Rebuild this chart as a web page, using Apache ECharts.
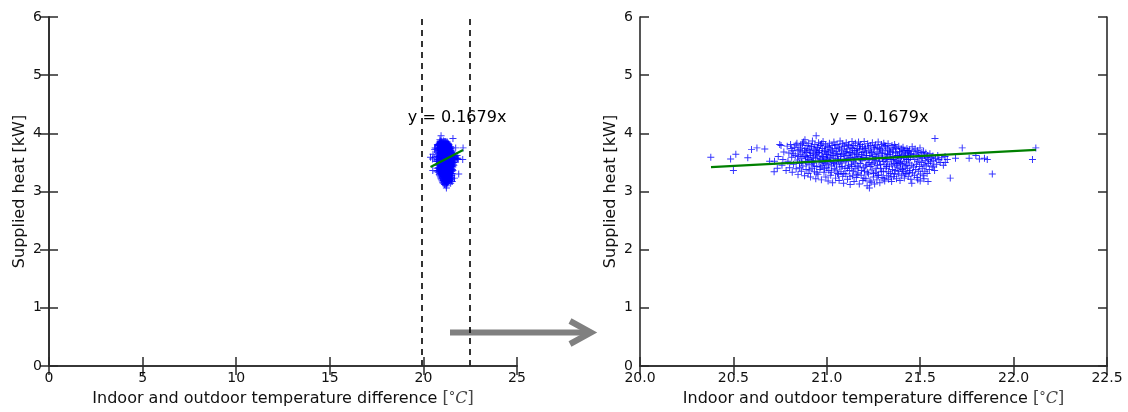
<!DOCTYPE html>
<html>
<head>
<meta charset="utf-8">
<script src="https://cdn.jsdelivr.net/npm/echarts@6/dist/echarts.min.js"></script>
<style>html,body{margin:0;padding:0;background:#fff}#c{width:1128px;height:412px}</style>
</head>
<body>
<div id="c"></div>
<script>
// ---- data ----
const samples = [
[20.379,3.59],[20.485,3.56],[20.513,3.64],[20.50,3.36],[20.577,3.58],[20.597,3.72],[20.626,3.75],[20.668,3.73],
[20.694,3.52],[20.718,3.34],[20.755,3.79],[20.782,3.36],[20.943,3.96],[21.579,3.91],[21.725,3.75],[21.689,3.57],
[21.762,3.57],[21.798,3.62],[21.817,3.56],[21.844,3.57],[21.859,3.55],[21.886,3.30],[21.661,3.23],[21.634,3.50],
[22.101,3.55],[22.119,3.75],[21.57,3.42],[21.542,3.17],[20.72,3.52],[20.74,3.60],[20.76,3.45],[20.77,3.68],
[20.748,3.81],[20.735,3.40],[20.765,3.55],[20.883,3.89],[21.487,3.20],[21.52,3.22],[21.50,3.18],[21.455,3.14],
[20.788,3.78],[20.792,3.52],[20.797,3.66],[20.801,3.41],
[20.806,3.81],[20.812,3.59],[20.815,3.33],[20.818,3.70],[20.822,3.47],
[20.828,3.76],[20.831,3.62],[20.836,3.39],[20.840,3.83],[20.843,3.54],[20.846,3.29],
[20.851,3.72],[20.854,3.48],[20.858,3.64],[20.861,3.80],[20.864,3.35],[20.867,3.57],[20.869,3.68],
[20.872,3.44],[20.875,3.85],[20.878,3.61],[20.881,3.27],[20.884,3.74],[20.886,3.52],[20.889,3.38],[20.892,3.67],[20.894,3.79],
[20.897,3.58],[20.900,3.31],[20.903,3.83],[20.905,3.46],[20.908,3.70],[20.911,3.62],[20.913,3.25],[20.916,3.77],[20.918,3.53],[20.921,3.40],
[20.923,3.87],[20.926,3.65],[20.929,3.49],[20.931,3.73],[20.934,3.34],[20.936,3.81],[20.939,3.57],[20.941,3.22],[20.944,3.68],[20.946,3.43],[20.948,3.76],
[20.951,3.61],[20.953,3.29],[20.956,3.84],[20.958,3.51],[20.961,3.70],[20.963,3.38],[20.966,3.79],[20.968,3.56],[20.971,3.20],[20.973,3.66],[20.975,3.45],[20.978,3.74],
[20.980,3.86],[20.983,3.59],[20.985,3.33],[20.988,3.71],[20.990,3.48],[20.993,3.80],[20.995,3.25],[20.998,3.63],[21.000,3.41],[21.002,3.77],[21.004,3.55],[21.007,3.18],
[21.009,3.68],[21.011,3.36],[21.014,3.83],[21.016,3.52],[21.019,3.72],[21.021,3.28],[21.023,3.61],[21.026,3.44],[21.028,3.79],[21.031,3.15],[21.033,3.66],[21.035,3.50],[21.038,3.85],
[21.040,3.39],[21.043,3.74],[21.045,3.57],[21.047,3.23],[21.050,3.69],[21.052,3.46],[21.055,3.81],[21.057,3.31],[21.059,3.63],[21.062,3.53],[21.064,3.76],[21.066,3.19],[21.069,3.42],
[21.071,3.87],[21.073,3.60],[21.076,3.34],[21.078,3.71],[21.080,3.49],[21.083,3.82],[21.085,3.26],[21.088,3.65],[21.090,3.14],[21.092,3.56],[21.095,3.78],[21.097,3.40],[21.099,3.68],
[21.102,3.30],[21.104,3.84],[21.107,3.54],[21.109,3.73],[21.111,3.21],[21.114,3.62],[21.116,3.45],[21.118,3.80],[21.121,3.36],[21.123,3.67],[21.125,3.12],[21.128,3.58],[21.130,3.76],[21.132,3.47],
[21.135,3.86],[21.137,3.27],[21.139,3.64],[21.142,3.51],[21.144,3.79],[21.146,3.17],[21.149,3.70],[21.151,3.39],[21.153,3.83],[21.156,3.57],[21.158,3.24],[21.160,3.66],[21.163,3.44],[21.165,3.74],
[21.167,3.32],[21.170,3.85],[21.172,3.60],[21.174,3.13],[21.177,3.72],[21.179,3.48],[21.181,3.81],[21.184,3.28],[21.186,3.63],[21.188,3.53],[21.191,3.77],[21.193,3.19],[21.195,3.41],[21.198,3.69],
[21.200,3.86],[21.202,3.35],[21.205,3.58],[21.207,3.75],[21.209,3.22],[21.212,3.66],[21.214,3.46],[21.216,3.10],[21.219,3.82],[21.221,3.54],[21.223,3.30],[21.226,3.71],[21.228,3.06],[21.230,3.62],
[21.233,3.43],[21.235,3.79],[21.237,3.16],[21.240,3.67],[21.242,3.37],[21.244,3.84],[21.247,3.55],[21.249,3.25],[21.251,3.73],[21.254,3.49],[21.256,3.13],[21.258,3.64],[21.261,3.80],[21.263,3.33],
[21.265,3.59],[21.268,3.20],[21.270,3.76],[21.272,3.45],[21.275,3.85],[21.277,3.28],[21.279,3.68],[21.282,3.52],[21.284,3.15],[21.286,3.72],[21.289,3.39],[21.291,3.61],[21.293,3.81],[21.296,3.24],
[21.298,3.57],[21.300,3.70],[21.303,3.34],[21.305,3.83],[21.307,3.47],[21.310,3.18],[21.312,3.65],[21.314,3.77],[21.317,3.40],[21.319,3.58],[21.321,3.27],[21.324,3.73],
[21.326,3.51],[21.328,3.82],[21.331,3.21],[21.333,3.63],[21.335,3.44],[21.338,3.75],[21.340,3.31],[21.342,3.68],[21.345,3.55],[21.347,3.17],[21.349,3.79],[21.352,3.38],
[21.354,3.60],[21.356,3.72],[21.359,3.26],[21.361,3.48],[21.363,3.81],[21.366,3.36],[21.368,3.66],[21.370,3.53],[21.373,3.22],[21.375,3.74],[21.377,3.42],
[21.380,3.62],[21.382,3.30],[21.385,3.78],[21.387,3.50],[21.389,3.69],[21.392,3.19],[21.394,3.57],[21.396,3.40],[21.399,3.73],[21.401,3.27],
[21.403,3.64],[21.406,3.47],[21.408,3.76],[21.410,3.35],[21.413,3.59],[21.415,3.23],[21.417,3.70],[21.420,3.44],[21.422,3.66],
[21.424,3.31],[21.427,3.55],[21.429,3.74],[21.431,3.40],[21.434,3.62],[21.436,3.26],[21.438,3.68],[21.441,3.49],
[21.443,3.71],[21.445,3.36],[21.448,3.58],[21.450,3.21],[21.452,3.65],[21.455,3.45],[21.457,3.77],[21.459,3.32],
[21.462,3.60],[21.464,3.42],[21.466,3.69],[21.469,3.28],[21.471,3.55],[21.473,3.73],[21.476,3.38],
[21.478,3.63],[21.480,3.47],[21.483,3.24],[21.485,3.70],[21.487,3.52],[21.490,3.35],[21.492,3.66],
[21.494,3.58],[21.497,3.43],[21.499,3.75],[21.501,3.30],[21.504,3.61],[21.506,3.50],[21.509,3.67],
[21.511,3.39],[21.513,3.57],[21.516,3.27],[21.518,3.69],[21.520,3.46],[21.523,3.62],
[21.525,3.35],[21.527,3.53],[21.530,3.66],[21.532,3.44],[21.535,3.59],[21.537,3.31],
[21.540,3.62],[21.543,3.48],[21.546,3.55],[21.549,3.38],[21.552,3.65],[21.555,3.51],
[21.560,3.58],[21.564,3.44],[21.568,3.61],[21.573,3.53],[21.577,3.36],[21.582,3.57],[21.588,3.47],[21.594,3.62],
[21.600,3.55],[21.607,3.50],[21.615,3.58],[21.624,3.45],[21.633,3.60],[21.645,3.55],
[20.887,3.60],[20.893,3.49],[20.899,3.72],[20.904,3.55],[20.909,3.37],[20.914,3.66],[20.919,3.78],[20.924,3.51],
[20.928,3.59],[20.933,3.44],[20.938,3.71],[20.943,3.63],[20.947,3.32],[20.952,3.75],[20.957,3.67],[20.962,3.54],
[20.967,3.42],[20.972,3.82],[20.977,3.60],[20.982,3.50],[20.987,3.39],[20.992,3.69],[20.997,3.57],[21.003,3.64],
[21.008,3.46],[21.013,3.76],[21.018,3.58],[21.024,3.33],[21.029,3.70],[21.034,3.62],[21.039,3.48],[21.044,3.80],
[21.049,3.37],[21.054,3.65],[21.058,3.56],[21.063,3.29],[21.068,3.73],[21.072,3.51],[21.077,3.64],[21.082,3.43],
[21.087,3.78],[21.091,3.31],[21.096,3.61],[21.101,3.52],[21.106,3.69],[21.110,3.40],[21.115,3.80],[21.120,3.57],
[21.124,3.26],[21.129,3.66],[21.134,3.43],[21.138,3.74],[21.143,3.35],[21.148,3.59],[21.152,3.49],[21.157,3.71],
[21.162,3.29],[21.166,3.63],[21.171,3.42],[21.175,3.78],[21.180,3.55],[21.185,3.36],[21.189,3.67],[21.194,3.58],
[21.199,3.23],[21.203,3.74],[21.208,3.44],[21.213,3.62],[21.217,3.33],[21.222,3.78],[21.227,3.50],[21.231,3.18],
[21.236,3.69],[21.241,3.47],[21.246,3.60],[21.250,3.31],[21.255,3.76],[21.260,3.53],[21.264,3.40],[21.269,3.65],
[21.273,3.28],[21.278,3.57],[21.283,3.74],[21.287,3.46],[21.292,3.35],[21.297,3.66],[21.302,3.52],[21.306,3.22],
[21.311,3.79],[21.316,3.55],[21.320,3.43],[21.325,3.64],[21.330,3.34],[21.334,3.70],[21.339,3.59],[21.344,3.25],
[21.348,3.47],[21.353,3.68],[21.358,3.55],[21.362,3.30],[21.367,3.76],[21.372,3.45],[21.376,3.62],[21.381,3.52],
[21.386,3.35],[21.391,3.68],[21.395,3.48],[21.400,3.60],[21.405,3.38],[21.409,3.71],[21.414,3.52],[21.419,3.30],
[21.423,3.62],[21.428,3.45],[21.433,3.70],[21.437,3.55],[21.442,3.33],[21.447,3.64],
[20.810,3.74],[20.820,3.65],[20.835,3.80],[20.845,3.70],[20.850,3.60],[20.860,3.75],[20.870,3.82],[20.880,3.70],
[20.865,3.50],[20.855,3.41]
];
const fitX = [20.38, 22.12];
const fitY = [3.42, 3.714];
const fitLabel = 'y = 0.1679x';
const fitLabelLeft = [21.8, 4.27];
const fitLabelRight = [21.28, 4.27];
const windowBounds = [19.9, 22.5];
const leftXTicks = {min: 0, max: 25, interval: 5};
const rightXTicks = {min: 20.0, max: 22.5, interval: 0.5};
const yTicks = {min: 0, max: 6, interval: 1};
const xTitle = 'Indoor and outdoor temperature difference ';
const yTitle = 'Supplied heat [kW]';

// ---- chart ----
const chart = echarts.init(document.getElementById('c'), null, {renderer: 'canvas'});
const FONT = 'DejaVu Sans';
const PLUS = 'path://M-0.14,-1H0.14V-0.14H1V0.14H0.14V1H-0.14V0.14H-1V-0.14H-0.14Z';
const axisLine = {show: true, lineStyle: {color: '#2b2b2b', width: 1.6}};
const tick = {show: true, inside: true, length: 9, lineStyle: {color: '#2b2b2b', width: 1.5}};
const fitData = fitX.map((x, i) => [x, fitY[i]]);

function xBottom(grid, t, fmt) {
  return {type: 'value', gridIndex: grid, position: 'bottom', min: t.min, max: t.max, interval: t.interval,
    axisLine, axisTick: tick, splitLine: {show: false}, z: 5,
    axisLabel: {color: '#111', fontFamily: FONT, fontSize: 14, margin: 5, formatter: fmt},
    name: xTitle + '{b|[}{d|°}{c|C}{b|]}', nameLocation: 'middle', nameGap: 25,
    nameTextStyle: {color: '#111', fontFamily: FONT, fontSize: 16,
      rich: {b: {fontFamily: 'DejaVu Serif', fontSize: 16, color: '#444'},
             d: {fontFamily: 'DejaVu Serif', fontSize: 13, color: '#444', verticalAlign: 'top'},
             c: {fontFamily: 'DejaVu Serif', fontStyle: 'italic', fontSize: 16, color: '#444'}}}};
}
function xTop(grid, t) {
  return {type: 'value', gridIndex: grid, position: 'top', min: t.min, max: t.max, interval: t.interval,
    axisLine, axisTick: tick, axisLabel: {show: false}, splitLine: {show: false}, z: 5};
}
function yLeft(grid) {
  return {type: 'value', gridIndex: grid, position: 'left', min: yTicks.min, max: yTicks.max, interval: yTicks.interval,
    axisLine, axisTick: tick, splitLine: {show: false}, z: 5,
    axisLabel: {color: '#111', fontFamily: FONT, fontSize: 14, margin: 7},
    name: yTitle, nameLocation: 'middle', nameGap: 21, nameRotate: 90,
    nameTextStyle: {color: '#111', fontFamily: FONT, fontSize: 16}};
}
function yRight(grid) {
  return {type: 'value', gridIndex: grid, position: 'right', min: yTicks.min, max: yTicks.max, interval: yTicks.interval,
    axisLine, axisTick: tick, axisLabel: {show: false}, splitLine: {show: false}, z: 5};
}
function scatter(xi, yi) {
  return {type: 'scatter', xAxisIndex: xi, yAxisIndex: yi, data: samples, symbol: PLUS, symbolSize: 7,
    itemStyle: {color: '#0000ff', opacity: 0.8}, silent: true, animation: false, z: 2, large: false};
}
function fit(xi, yi) {
  return {type: 'line', xAxisIndex: xi, yAxisIndex: yi, data: fitData, symbol: 'none', silent: true, animation: false,
    lineStyle: {color: '#008000', width: 2.2}, z: 3};
}
function note(xi, yi, pos) {
  return {type: 'scatter', xAxisIndex: xi, yAxisIndex: yi, data: [pos], symbol: 'circle', symbolSize: 0,
    silent: true, animation: false, itemStyle: {color: '#000', opacity: 0}, z: 4,
    label: {show: true, position: [0, 0], align: 'center', verticalAlign: 'middle', formatter: fitLabel,
      color: '#000', opacity: 1, fontFamily: FONT, fontSize: 16, textBorderWidth: 0}};
}

const dashed = {type: 'line', xAxisIndex: 0, yAxisIndex: 0, data: [], silent: true, animation: false, z: 4,
  markLine: {symbol: 'none', silent: true, animation: false, label: {show: false},
    lineStyle: {color: '#000', width: 1.6, type: [6, 5]},
    data: windowBounds.map(v => ({xAxis: v}))}};

chart.setOption({
  animation: false,
  backgroundColor: '#fff',
  grid: [
    {left: 49, right: 1128 - 517, top: 17, bottom: 412 - 368},
    {left: 640, right: 1128 - 1107, top: 17, bottom: 412 - 368}
  ],
  xAxis: [
    xBottom(0, leftXTicks, v => String(v)), xTop(0, leftXTicks),
    xBottom(1, rightXTicks, v => v.toFixed(1)), xTop(1, rightXTicks)
  ],
  yAxis: [yLeft(0), yRight(0), yLeft(1), yRight(1)],
  series: [
    scatter(0, 0), fit(0, 0), note(0, 0, fitLabelLeft), dashed,
    scatter(2, 2), fit(2, 2), note(2, 2, fitLabelRight)
  ],
  graphic: [
    {type: 'group', z: 1, silent: true, children: [
      {type: 'line', shape: {x1: 450, y1: 332.5, x2: 589, y2: 332.5}, style: {stroke: '#808080', lineWidth: 6}},
      {type: 'polyline', shape: {points: [[570, 321], [591, 332.5], [570, 344]]},
        style: {stroke: '#808080', lineWidth: 6, fill: null, lineJoin: 'miter'}}
    ]}
  ]
});
</script>
</body>
</html>
